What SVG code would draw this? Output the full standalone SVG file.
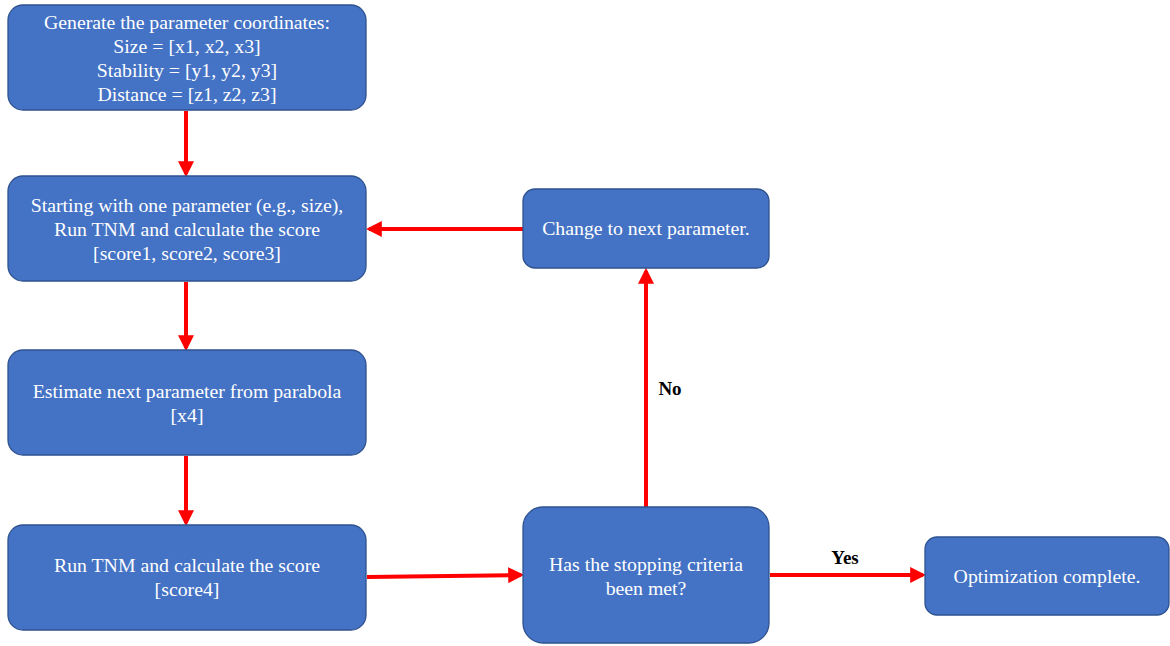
<svg xmlns="http://www.w3.org/2000/svg" width="1170" height="646" viewBox="0 0 1170 646">
<style>
.box{fill:#4472C4;stroke:#2F528F;stroke-width:1.3}
.t{font-family:"Liberation Serif","Times New Roman",serif;font-size:19.8px;fill:#FFFFFF;text-anchor:middle}
.lbl{font-family:"Liberation Serif","Times New Roman",serif;font-size:19px;font-weight:bold;fill:#000000;text-anchor:middle}
.c{stroke:#FF0000;stroke-width:4;fill:none}
</style>
<defs>
<marker id="ah" markerWidth="4" markerHeight="4" refX="3.2" refY="2" orient="auto" markerUnits="strokeWidth">
<path d="M0,0 L4,2 L0,4 Z" fill="#FF0000"/>
</marker>
</defs>
<rect width="1170" height="646" fill="#FFFFFF"/>
<g id="connectors">
<line class="c" x1="186" y1="111" x2="186" y2="174" marker-end="url(#ah)"/>
<line class="c" x1="186" y1="282" x2="186" y2="348" marker-end="url(#ah)"/>
<line class="c" x1="186" y1="456" x2="186" y2="523" marker-end="url(#ah)"/>
<line class="c" x1="523" y1="229" x2="369" y2="229" marker-end="url(#ah)"/>
<line class="c" x1="367" y1="577" x2="521" y2="575" marker-end="url(#ah)"/>
<line class="c" x1="770" y1="575" x2="923" y2="575" marker-end="url(#ah)"/>
<line class="c" x1="646" y1="507" x2="646" y2="271" marker-end="url(#ah)"/>
<text class="lbl" x="845" y="564">Yes</text>
<text class="lbl" x="670" y="395">No</text>
</g>
<g id="n1">
<rect class="box" x="8" y="5" width="358" height="105" rx="15"/>
<text class="t" x="187" y="29">Generate the parameter coordinates:</text>
<text class="t" x="187" y="53">Size = [x1, x2, x3]</text>
<text class="t" x="187" y="77">Stability = [y1, y2, y3]</text>
<text class="t" x="187" y="101">Distance = [z1, z2, z3]</text>
</g>
<g id="n2">
<rect class="box" x="8" y="176" width="358" height="105" rx="15"/>
<text class="t" x="187" y="212">Starting with one parameter (e.g., size),</text>
<text class="t" x="187" y="236">Run TNM and calculate the score</text>
<text class="t" x="187" y="260">[score1, score2, score3]</text>
</g>
<g id="n3">
<rect class="box" x="8" y="350" width="358" height="105" rx="15"/>
<text class="t" x="187" y="398">Estimate next parameter from parabola</text>
<text class="t" x="187" y="422">[x4]</text>
</g>
<g id="n4">
<rect class="box" x="8" y="525" width="358" height="105" rx="15"/>
<text class="t" x="187" y="572">Run TNM and calculate the score</text>
<text class="t" x="187" y="596">[score4]</text>
</g>
<g id="n5">
<rect class="box" x="523" y="189" width="246" height="79" rx="12"/>
<text class="t" x="646" y="235">Change to next parameter.</text>
</g>
<g id="n6">
<rect class="box" x="523" y="507" width="246" height="136" rx="20"/>
<text class="t" x="646" y="571">Has the stopping criteria</text>
<text class="t" x="646" y="595">been met?</text>
</g>
<g id="n7">
<rect class="box" x="925" y="537" width="244" height="78" rx="12"/>
<text class="t" x="1047" y="583">Optimization complete.</text>
</g>
</svg>
